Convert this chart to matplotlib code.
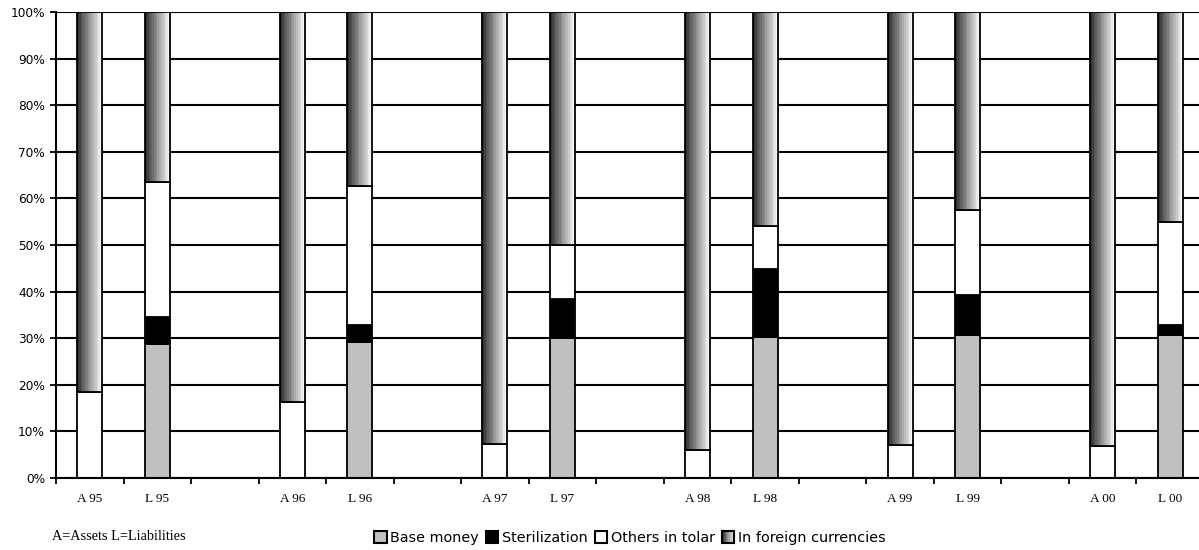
import numpy as np
import matplotlib
matplotlib.use("Agg")
import matplotlib.pyplot as plt
from matplotlib.patches import Rectangle, Patch
from matplotlib.legend_handler import HandlerBase
from matplotlib.ticker import FixedLocator, NullFormatter

# Category axis: assets / liabilities per year, separated by an empty slot
categories = ["A 95", "L 95", "", "A 96", "L 96", "", "A 97", "L 97", "",
              "A 98", "L 98", "", "A 99", "L 99", "", "A 00", "L 00"]

# Bars actually drawn (shares of balance sheet, %)
bar_labels = ["A 95", "L 95", "A 96", "L 96", "A 97", "L 97",
              "A 98", "L 98", "A 99", "L 99", "A 00", "L 00"]
base_money    = [0, 28.7, 0, 29.1, 0, 30.0, 0, 30.3, 0, 30.7, 0, 30.7]
sterilization = [0, 5.8, 0, 3.7, 0, 8.4, 0, 14.5, 0, 8.6, 0, 2.1]
others_tolar  = [18.4, 29.1, 16.3, 29.9, 7.2, 11.5, 6.0, 9.3, 7.0, 18.2, 6.9, 22.2]
foreign_curr  = [81.6, 36.4, 83.7, 37.3, 92.8, 50.1, 94.0, 45.9, 93.0, 42.5, 93.1, 45.0]

series_names = ["Base money", "Sterilization", "Others in tolar", "In foreign currencies"]
y_ticks = list(range(0, 101, 10))
y_tick_labels = [f"{v}%" for v in y_ticks]

GREY = "#c0c0c0"
BAR_W = 0.37
EDGE_LW = 1.3
grad_vals = np.linspace(0.2, 0.97, 14)

fig = plt.figure(figsize=(11.99, 5.50), dpi=100)
ax = fig.add_axes([56 / 1199, 1 - 477.7 / 550, 1148 / 1199, (477.7 - 12.3) / 550])

xpos = np.array([categories.index(lbl) for lbl in bar_labels], dtype=float)
b0 = np.zeros(len(xpos))
b1 = b0 + np.array(base_money)
b2 = b1 + np.array(sterilization)
b3 = b2 + np.array(others_tolar)

# Solid segments
for vals, bottom, color in [(base_money, b0, GREY), (sterilization, b1, "black"),
                            (others_tolar, b2, "white")]:
    vals = np.array(vals, dtype=float)
    mask = vals > 0
    ax.bar(xpos[mask], vals[mask], bottom=bottom[mask], width=BAR_W,
           color=color, edgecolor="black", linewidth=EDGE_LW, zorder=3)

# Foreign-currency segments with horizontal banded gradient
grad = grad_vals[np.newaxis, :]
for x, bot, h in zip(xpos, b3, foreign_curr):
    ax.imshow(grad, extent=(x - BAR_W / 2, x + BAR_W / 2, bot, bot + h),
              aspect="auto", cmap="gray", vmin=0, vmax=1,
              interpolation="nearest", zorder=3)
ax.bar(xpos, foreign_curr, bottom=b3, width=BAR_W, facecolor="none",
       edgecolor="black", linewidth=EDGE_LW, zorder=4)

ax.set_xlim(-0.5, len(categories) - 0.5)
ax.set_ylim(0, 100)
ax.set_aspect("auto")

# Gridlines
ax.set_yticks(y_ticks)
ax.set_yticklabels(y_tick_labels, fontsize=8.7, family="DejaVu Sans")
ax.yaxis.grid(True, color="black", linewidth=1.5, zorder=1)
ax.set_axisbelow(True)
ax.tick_params(axis="y", direction="out", length=4, width=1.3, pad=4)

# X axis: labels at category centres, ticks at category boundaries
ax.set_xticks(range(len(categories)))
ax.set_xticklabels(categories, fontsize=9.5, family="Liberation Serif")
ax.tick_params(axis="x", which="major", length=0, pad=11)
ax.xaxis.set_minor_locator(FixedLocator(np.arange(-0.5, len(categories), 1.0)))
ax.xaxis.set_minor_formatter(NullFormatter())
ax.tick_params(axis="x", which="minor", direction="out", length=4, width=1.3)

for side in ["top", "right"]:
    ax.spines[side].set_visible(False)
for side in ["left", "bottom"]:
    ax.spines[side].set_linewidth(1.5)
    ax.spines[side].set_zorder(5)


class HandlerGradient(HandlerBase):
    def create_artists(self, legend, orig_handle, xdescent, ydescent,
                       width, height, fontsize, trans):
        arts = []
        n = len(grad_vals)
        w = width / n
        for i, g in enumerate(grad_vals):
            arts.append(Rectangle((-xdescent + i * w, -ydescent), w, height,
                                  facecolor=str(g), edgecolor="none", transform=trans))
        arts.append(Rectangle((-xdescent, -ydescent), width, height,
                              facecolor="none", edgecolor="black",
                              linewidth=1.5, transform=trans))
        return arts


handles = [Patch(facecolor=GREY, edgecolor="black", linewidth=1.5),
           Patch(facecolor="black", edgecolor="black", linewidth=1.5),
           Patch(facecolor="white", edgecolor="black", linewidth=1.5),
           Patch(facecolor="none", edgecolor="black")]
fig.legend(handles, series_names, loc="center", ncol=4,
           bbox_to_anchor=(630 / 1199, 1 - 538 / 550), frameon=False,
           prop={"family": "DejaVu Sans", "size": 10.4},
           handlelength=0.85, handleheight=0.85, handletextpad=0.25,
           columnspacing=0.5, borderpad=0,
           handler_map={handles[3]: HandlerGradient()})

fig.text(52 / 1199, 1 - 537 / 550, "A=Assets L=Liabilities",
         fontsize=10.3, family="Liberation Serif", va="center", ha="left")

fig.savefig("out.png", dpi=100)
